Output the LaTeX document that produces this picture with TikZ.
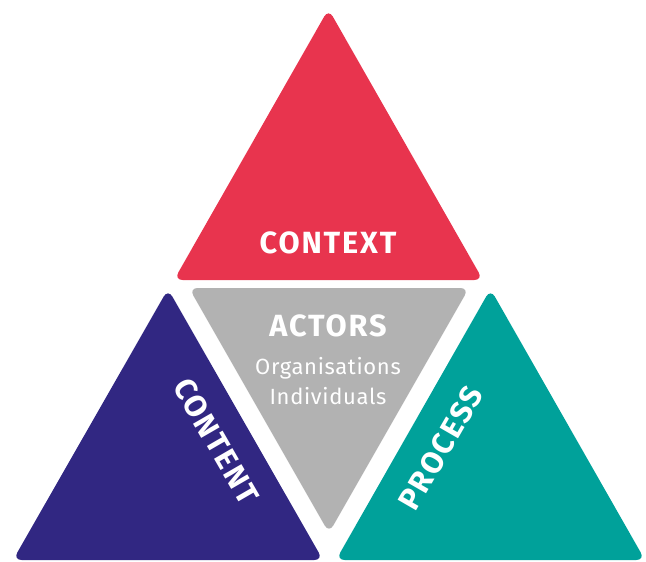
\documentclass[tikz,border=0pt]{standalone}
\usepackage{fontspec}
\setmainfont{Fira Sans}
\newfontfamily\titlefont[LetterSpace=6]{Fira Sans}
\newfontfamily\subfont[LetterSpace=3]{Fira Sans}
\definecolor{cred}{HTML}{E8344E}
\definecolor{cnavy}{HTML}{312782}
\definecolor{cteal}{HTML}{00A19A}
\definecolor{cgray}{HTML}{B2B2B2}
\begin{document}
\begin{tikzpicture}[x=0.75pt,y=-0.75pt,
  tri/.style={rounded corners=6.5pt},
  title/.style={text=white,font=\titlefont\bfseries\fontsize{23}{26}\selectfont,inner sep=0pt},
  sub/.style={text=white,font=\subfont\fontsize{16.5}{22.5}\selectfont,inner sep=0pt,align=center}]
\useasboundingbox (0,0) rectangle (646,561);
\fill[cred,tri] (174,280) -- (328.5,9) -- (483,280) -- cycle;
\fill[cnavy,tri] (13,560) -- (168,289) -- (323,560) -- cycle;
\fill[cteal,tri] (336,560) -- (490.5,289) -- (645,560) -- cycle;
\fill[cgray,tri] (189,288) -- (469,288) -- (329,533) -- cycle;
\node[title] (context) at (328,243) {CONTEXT};
\node[title] (actors) at (328,326) {ACTORS};
\node[sub] (orgs) at (328,381) {Organisations\\Individuals};
\node[title,rotate=-60] (content) at (216,441) {CONTENT};
\node[title,rotate=60] (process) at (441,448) {PROCESS};
\end{tikzpicture}
\end{document}
